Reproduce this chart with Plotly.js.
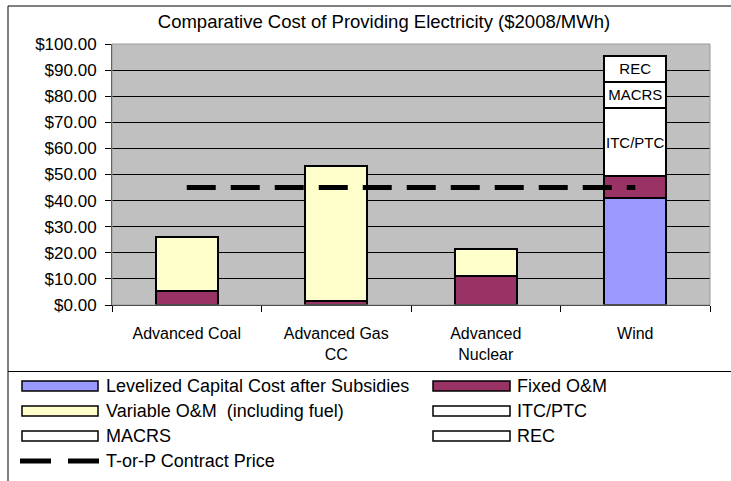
<!DOCTYPE html>
<html>
<head>
<meta charset="utf-8">
<script src="https://cdn.plot.ly/plotly-3.0.1.min.js"></script>
<style>html,body{margin:0;padding:0;background:#fff;}#chart{width:731px;height:481px;}</style>
</head>
<body>
<div id="chart"></div>
<script>
// ---- data ----
const categories = ['Advanced Coal', 'Advanced Gas<br>CC', 'Advanced<br>Nuclear', 'Wind'];
const seriesNames = ['Levelized Capital Cost after Subsidies', 'Fixed O&M', 'Variable O&M  (including fuel)', 'ITC/PTC', 'MACRS', 'REC'];
const capitalCost = [null, null, null, 41.1];
const fixedOM = [5.4, 1.6, 11.2, 8.4];
const variableOM = [20.6, 51.8, 10.1, null];
const itcPtc = [null, null, null, 25.9];
const macrs = [null, null, null, 10.2];
const rec = [null, null, null, 9.8];
const contractName = 'T-or-P Contract Price';
const contractPrice = [45, 45, 45, 45];
const yTicks = [0, 10, 20, 30, 40, 50, 60, 70, 80, 90, 100];
const yTickLabels = ['$0.00', '$10.00', '$20.00', '$30.00', '$40.00', '$50.00', '$60.00', '$70.00', '$80.00', '$90.00', '$100.00'];

// ---- styling ----
const W = 731, H = 481;
const L = 112, R = 710, T = 44, B = 305;
const FONT = 'Liberation Sans, Arial, sans-serif';
const colors = ['#9999ff', '#993366', '#ffffcc', '#ffffff', '#ffffff', '#ffffff'];
const seriesValues = [capitalCost, fixedOM, variableOM, itcPtc, macrs, rec];

const px2x = p => (p - L) / (R - L);
const px2y = p => (B - p) / (B - T);

const traces = seriesValues.map((vals, i) => ({
  type: 'bar',
  name: seriesNames[i],
  x: categories,
  y: vals,
  marker: {color: colors[i], line: {color: '#000', width: 2}},
  text: i >= 3 ? categories.map((c, k) => k === 3 ? seriesNames[i] : null) : undefined,
  textposition: i >= 3 ? 'inside' : 'none',
  insidetextanchor: 'middle',
  constraintext: 'none',
  textangle: 0,
  textfont: {family: FONT, size: 15, color: '#000'},
  hoverinfo: 'name+y'
}));

traces.push({
  type: 'scatter',
  mode: 'lines',
  name: contractName,
  x: categories,
  y: contractPrice,
  line: {color: '#000', width: 5, dash: '29px,15px'},
  showlegend: false
});

// ---- custom legend (Excel style) ----
const shapes = [];
const annotations = [];
shapes.push({type: 'line', xref: 'paper', yref: 'paper', x0: px2x(8), x1: px2x(740), y0: px2y(6), y1: px2y(6), line: {color: '#000', width: 1}});
shapes.push({type: 'line', xref: 'paper', yref: 'paper', x0: px2x(8), x1: px2x(8), y0: px2y(6), y1: px2y(500), line: {color: '#000', width: 1}});
shapes.push({type: 'line', xref: 'paper', yref: 'paper', x0: px2x(8), x1: px2x(740), y0: px2y(371.5), y1: px2y(371.5), line: {color: '#000', width: 1}});
shapes.push({type: 'rect', xref: 'paper', yref: 'paper', x0: 0, x1: 1, y0: 0, y1: 1, line: {color: '#999', width: 1}, layer: 'above'});

const LEGFONT = {family: FONT, size: 18, color: '#000'};
const colX = [[22, 98, 104], [433, 510, 515]];
const rowY = [386, 411, 436, 461];
seriesNames.forEach((nm, i) => {
  const c = colX[i % 2], ry = rowY[Math.floor(i / 2)];
  shapes.push({type: 'rect', xref: 'paper', yref: 'paper', x0: px2x(c[0]), x1: px2x(c[1]), y0: px2y(ry - 5), y1: px2y(ry + 5), fillcolor: colors[i], line: {color: '#000', width: 1.5}});
  annotations.push({xref: 'paper', yref: 'paper', x: px2x(c[2]), y: px2y(ry), xanchor: 'left', yanchor: 'middle', text: nm, showarrow: false, font: LEGFONT});
});
shapes.push({type: 'line', xref: 'paper', yref: 'paper', x0: px2x(20), x1: px2x(99), y0: px2y(rowY[3]), y1: px2y(rowY[3]), line: {color: '#000', width: 5, dash: '31px,17px'}});
annotations.push({xref: 'paper', yref: 'paper', x: px2x(104), y: px2y(rowY[3]), xanchor: 'left', yanchor: 'middle', text: contractName, showarrow: false, font: LEGFONT});

const layout = {
  width: W, height: H,
  margin: {l: L, r: W - R, t: T, b: H - B, pad: 0},
  paper_bgcolor: '#fff',
  plot_bgcolor: '#c0c0c0',
  barmode: 'stack',
  bargap: 0.585,
  showlegend: false,
  font: {family: FONT, size: 16, color: '#000'},
  title: {text: 'Comparative Cost of Providing Electricity ($2008/MWh)', x: 384 / W, xanchor: 'center', xref: 'container', y: 1 - 22 / H, yanchor: 'middle', yref: 'container', font: {family: FONT, size: 18.5, color: '#000'}},
  xaxis: {
    type: 'category', tickson: 'boundaries', ticks: 'outside', ticklen: 6, tickcolor: '#000',
    showline: true, linecolor: '#000', linewidth: 1, showgrid: false,
    tickfont: {family: FONT, size: 16, color: '#000'}, ticklabelstandoff: 14
  },
  yaxis: {
    range: [0, 100], tickvals: yTicks, ticktext: yTickLabels,
    ticks: 'outside', ticklen: 6, tickcolor: '#000',
    showline: true, linecolor: '#333', linewidth: 1,
    showgrid: true, gridcolor: '#000', gridwidth: 1, zeroline: false,
    tickfont: {family: FONT, size: 17, color: '#000'}, ticklabelstandoff: 5
  },
  shapes: shapes,
  annotations: annotations
};

Plotly.newPlot('chart', traces, layout, {displayModeBar: false, staticPlot: true});
</script>
</body>
</html>
